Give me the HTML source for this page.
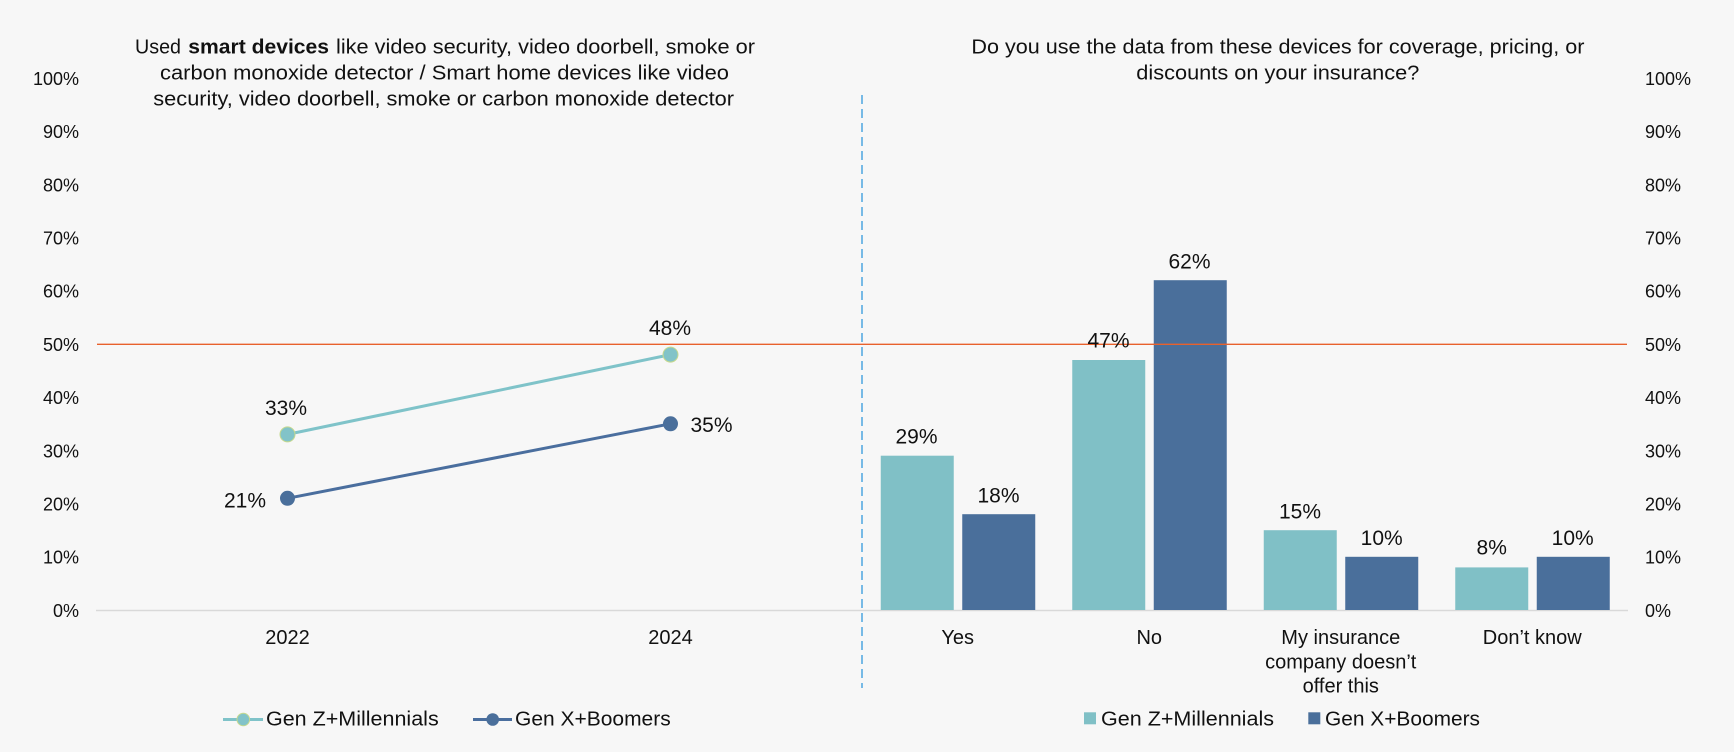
<!DOCTYPE html>
<html>
<head>
<meta charset="utf-8">
<style>
  html,body{margin:0;padding:0;background:#f7f7f7;}
  svg{display:block;}
  text{font-family:"Liberation Sans",Arial,sans-serif;fill:#111;}
</style>
</head>
<body>
<svg width="1734" height="752" viewBox="0 0 1734 752" xmlns="http://www.w3.org/2000/svg">
  <rect x="0" y="0" width="1734" height="752" fill="#f7f7f7"/>

  <!-- Left title -->
  <text x="135" y="53.3" font-size="20" textLength="46" lengthAdjust="spacingAndGlyphs">Used</text>
  <text x="188.3" y="53.3" font-size="20" font-weight="bold" textLength="140.7" lengthAdjust="spacingAndGlyphs">smart devices</text>
  <text x="336" y="53.3" font-size="20" textLength="419" lengthAdjust="spacingAndGlyphs">like video security, video doorbell, smoke or</text>
  <text x="160" y="79.3" font-size="20" textLength="569" lengthAdjust="spacingAndGlyphs">carbon monoxide detector / Smart home devices like video</text>
  <text x="153.3" y="105.3" font-size="20" textLength="580.7" lengthAdjust="spacingAndGlyphs">security, video doorbell, smoke or carbon monoxide detector</text>

  <!-- Right title -->
  <text x="971.4" y="53.3" font-size="20" textLength="613" lengthAdjust="spacingAndGlyphs">Do you use the data from these devices for coverage, pricing, or</text>
  <text x="1136.3" y="79.3" font-size="20" textLength="283" lengthAdjust="spacingAndGlyphs">discounts on your insurance?</text>

  <!-- Left y-axis labels -->
  <g font-size="18" text-anchor="end">
    <text x="79" y="616.9">0%</text>
    <text x="79" y="563.7">10%</text>
    <text x="79" y="510.5">20%</text>
    <text x="79" y="457.3">30%</text>
    <text x="79" y="404.1">40%</text>
    <text x="79" y="350.9">50%</text>
    <text x="79" y="297.7">60%</text>
    <text x="79" y="244.5">70%</text>
    <text x="79" y="191.3">80%</text>
    <text x="79" y="138.1">90%</text>
    <text x="79" y="84.9">100%</text>
  </g>

  <!-- Right y-axis labels -->
  <g font-size="18" text-anchor="start">
    <text x="1645" y="616.9">0%</text>
    <text x="1645" y="563.7">10%</text>
    <text x="1645" y="510.5">20%</text>
    <text x="1645" y="457.3">30%</text>
    <text x="1645" y="404.1">40%</text>
    <text x="1645" y="350.9">50%</text>
    <text x="1645" y="297.7">60%</text>
    <text x="1645" y="244.5">70%</text>
    <text x="1645" y="191.3">80%</text>
    <text x="1645" y="138.1">90%</text>
    <text x="1645" y="84.9">100%</text>
  </g>

  <!-- Baseline 0% -->
  <line x1="96" y1="610.5" x2="1628" y2="610.5" stroke="#d9d9d9" stroke-width="1.5"/>

  <!-- Bars -->
  <g>
    <!-- Yes -->
    <rect x="880.75" y="455.7" width="73" height="154.3" fill="#80c0c6"/>
    <rect x="962.25" y="514.2" width="73" height="95.8" fill="#4a6f9b"/>
    <!-- No -->
    <rect x="1072.25" y="360" width="73" height="250" fill="#80c0c6"/>
    <rect x="1153.75" y="280.2" width="73" height="329.8" fill="#4a6f9b"/>
    <!-- My insurance -->
    <rect x="1263.75" y="530.2" width="73" height="79.8" fill="#80c0c6"/>
    <rect x="1345.25" y="556.8" width="73" height="53.2" fill="#4a6f9b"/>
    <!-- Don't know -->
    <rect x="1455.25" y="567.4" width="73" height="42.6" fill="#80c0c6"/>
    <rect x="1536.75" y="556.8" width="73" height="53.2" fill="#4a6f9b"/>
  </g>

  <!-- 50% reference line -->
  <line x1="97" y1="344.3" x2="1627" y2="344.3" stroke="#e8612c" stroke-width="1.3"/>

  <!-- Dashed divider -->
  <line x1="862" y1="95" x2="862" y2="688" stroke="#4da6e0" stroke-width="1.5" stroke-dasharray="9,5"/>

  <!-- Lines -->
  <line x1="287.5" y1="434.4" x2="670.5" y2="354.6" stroke="#7fc3c9" stroke-width="3"/>
  <line x1="287.5" y1="498.3" x2="670.5" y2="423.8" stroke="#4a6e9e" stroke-width="3"/>
  <circle cx="287.5" cy="434.4" r="7.5" fill="#82c3c8" stroke="#c6d98e" stroke-width="1"/>
  <circle cx="670.5" cy="354.6" r="7.5" fill="#82c3c8" stroke="#c6d98e" stroke-width="1"/>
  <circle cx="287.5" cy="498.3" r="7.5" fill="#4a6f9b"/>
  <circle cx="670.5" cy="423.8" r="7.5" fill="#4a6f9b"/>

  <!-- Line data labels -->
  <g font-size="21">
    <text x="286" y="415" text-anchor="middle">33%</text>
    <text x="670" y="335" text-anchor="middle">48%</text>
    <text x="266" y="507.7" text-anchor="end">21%</text>
    <text x="690.5" y="432">35%</text>
  </g>

  <!-- Bar data labels -->
  <g font-size="21" text-anchor="middle">
    <text x="916.5" y="443.3">29%</text>
    <text x="998.5" y="502.3">18%</text>
    <text x="1108.5" y="347.7">47%</text>
    <text x="1189.5" y="268.3">62%</text>
    <text x="1300" y="518.3">15%</text>
    <text x="1381.7" y="545">10%</text>
    <text x="1491.7" y="554.3">8%</text>
    <text x="1572.7" y="545">10%</text>
  </g>

  <!-- Category labels -->
  <g font-size="20" text-anchor="middle">
    <text x="287.5" y="644">2022</text>
    <text x="670.5" y="644">2024</text>
    <text x="957.75" y="644">Yes</text>
    <text x="1149.25" y="644">No</text>
    <text x="1340.75" y="644">My insurance</text>
    <text x="1340.75" y="668.3">company doesn’t</text>
    <text x="1340.75" y="692.3">offer this</text>
    <text x="1532.25" y="644">Don’t know</text>
  </g>

  <!-- Left legend -->
  <line x1="223" y1="719.5" x2="263" y2="719.5" stroke="#7fc3c9" stroke-width="3"/>
  <circle cx="243.3" cy="719.5" r="6.3" fill="#82c3c8" stroke="#c6d98e" stroke-width="1"/>
  <text x="266" y="725.7" font-size="20" textLength="172.7" lengthAdjust="spacingAndGlyphs">Gen Z+Millennials</text>
  <line x1="473" y1="719.5" x2="512" y2="719.5" stroke="#4a6e9e" stroke-width="3"/>
  <circle cx="492.7" cy="719.5" r="6.3" fill="#4a6f9b"/>
  <text x="515" y="725.7" font-size="20" textLength="155.7" lengthAdjust="spacingAndGlyphs">Gen X+Boomers</text>

  <!-- Right legend -->
  <rect x="1084" y="712.3" width="12" height="12" fill="#80c0c6"/>
  <text x="1101" y="725.7" font-size="20" textLength="173" lengthAdjust="spacingAndGlyphs">Gen Z+Millennials</text>
  <rect x="1308.3" y="712.3" width="12" height="12" fill="#4a6f9b"/>
  <text x="1325" y="725.7" font-size="20" textLength="155" lengthAdjust="spacingAndGlyphs">Gen X+Boomers</text>
</svg>
</body>
</html>
